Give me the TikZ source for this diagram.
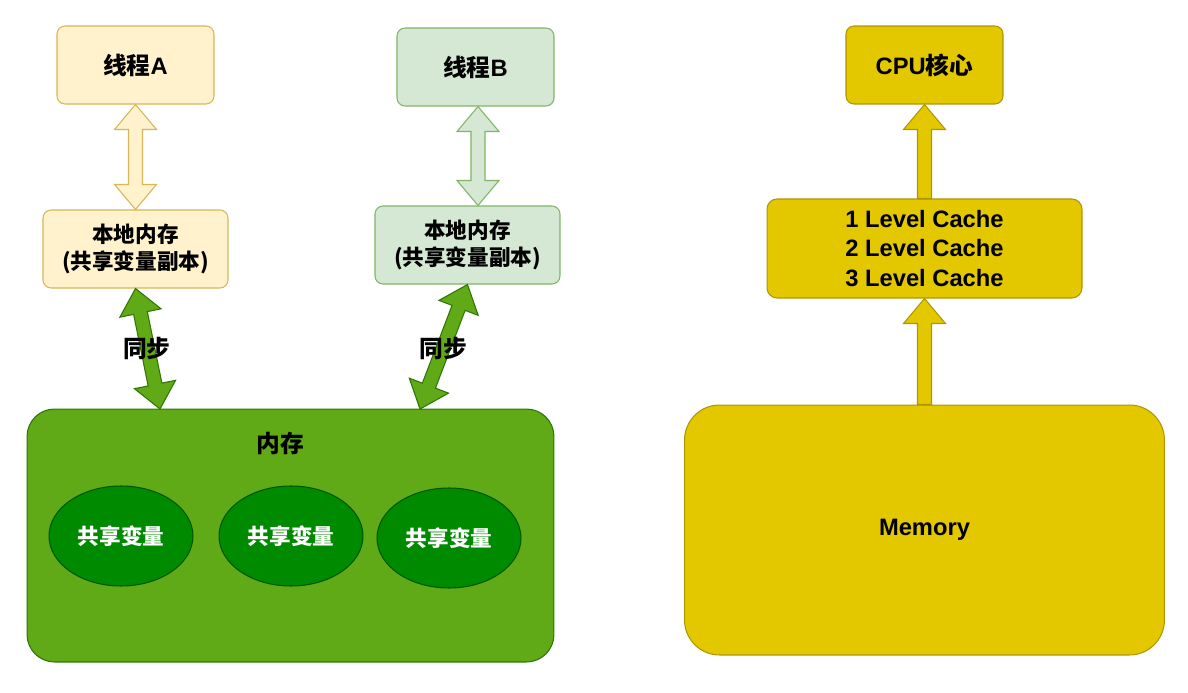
\documentclass[tikz,border=0pt]{standalone}
\usepackage{fontspec}
\setmainfont{Liberation Sans}
\newfontfamily\cjk{Noto Sans CJK SC}
\usetikzlibrary{calc,shapes.geometric}
\definecolor{cyfill}{HTML}{FFF2CC}
\definecolor{cyline}{HTML}{D6B656}
\definecolor{cgfill}{HTML}{D5E8D4}
\definecolor{cgline}{HTML}{82B366}
\definecolor{clime}{HTML}{60A917}
\definecolor{climeline}{HTML}{2D7600}
\definecolor{cdark}{HTML}{008A00}
\definecolor{cdarkline}{HTML}{005700}
\definecolor{cgold}{HTML}{E3C800}
\definecolor{cgoldline}{HTML}{B09500}

\newcommand{\dblarrow}[3]{%
  \filldraw[#1] (#2) -- ($(#2)!0.5cm!(#3)!0.42cm!90:(#3)$) -- ($(#2)!0.5cm!(#3)!0.14cm!90:(#3)$)
    -- ($(#3)!0.5cm!(#2)!0.14cm!-90:(#2)$) -- ($(#3)!0.5cm!(#2)!0.42cm!-90:(#2)$) -- (#3)
    -- ($(#3)!0.5cm!(#2)!0.42cm!90:(#2)$) -- ($(#3)!0.5cm!(#2)!0.14cm!90:(#2)$)
    -- ($(#2)!0.5cm!(#3)!0.14cm!-90:(#3)$) -- ($(#2)!0.5cm!(#3)!0.42cm!-90:(#3)$) -- cycle;}
\newcommand{\uparrowblk}[3]{%
  \filldraw[#1] ($(#2)!0.14cm!90:(#3)$) -- ($(#3)!0.5cm!(#2)!0.14cm!-90:(#2)$)
    -- ($(#3)!0.5cm!(#2)!0.42cm!-90:(#2)$) -- (#3) -- ($(#3)!0.5cm!(#2)!0.42cm!90:(#2)$)
    -- ($(#3)!0.5cm!(#2)!0.14cm!90:(#2)$) -- ($(#2)!0.14cm!-90:(#3)$) -- cycle;}

\begin{document}
\begin{tikzpicture}[x=0.02cm,y=-0.02cm,
  every node/.style={align=center,inner sep=0pt,line width=0.6pt,
    font=\bfseries\fontsize{13.5}{16.5}\selectfont},
  head/.style={draw,rounded corners=0.16cm,minimum width=3.14cm,minimum height=1.56cm},
  local/.style={draw,rounded corners=0.16cm,minimum width=3.7cm,minimum height=1.56cm,
    font=\cjk\bfseries\fontsize{12.3}{15}\selectfont},
  shared/.style={ellipse,draw=cdarkline,fill=cdark,text=white,minimum width=2.88cm,
    minimum height=2cm,font=\cjk\bfseries\fontsize{12.3}{15}\selectfont},
  every path/.style={line width=0.6pt}]
  \useasboundingbox (0,0) rectangle (1188,693);

  \node[head,fill=cyfill,draw=cyline] (ta) at (135.5,65) {{\cjk 线程}A};
  \node[head,fill=cgfill,draw=cgline] (tb) at (475.5,67) {{\cjk 线程}B};
  \node[local,fill=cyfill,draw=cyline] (la) at (135.5,249) {本地内存\\(共享变量副本)};
  \node[local,fill=cgfill,draw=cgline] (lb) at (467.5,245) {本地内存\\(共享变量副本)};

  \node[draw=climeline,fill=clime,rounded corners=0.55cm,minimum width=10.54cm,
    minimum height=5.06cm] (mem) at (290.5,535.5) {};
  \node[font=\cjk\bfseries\fontsize{13.5}{16.5}\selectfont] (memlabel) at (280,443) {内存};
  \node[shared] (v1) at (121,536) {共享变量};
  \node[shared] (v2) at (291,536) {共享变量};
  \node[shared] (v3) at (449,538) {共享变量};

  \coordinate (tbs) at ($(tb.south)+(2.5,0)$);
  \coordinate (lbn) at ($(lb.north)+(10.5,0)$);
  \coordinate (ma) at (160,409);
  \coordinate (mb) at (420,409);
  \dblarrow{fill=cyfill,draw=cyline}{ta.south}{la.north}
  \dblarrow{fill=cgfill,draw=cgline}{tbs}{lbn}
  \dblarrow{fill=clime,draw=climeline}{la.south}{ma}
  \dblarrow{fill=clime,draw=climeline}{lb.south}{mb}
  \node[font=\cjk\bfseries\fontsize{13.5}{16.5}\selectfont] (syncA) at (147,348) {同步};
  \node[font=\cjk\bfseries\fontsize{13.5}{16.5}\selectfont] (syncB) at (443,348) {同步};

  \node[head,fill=cgold,draw=cgoldline] (cpu) at (924.5,65) {CPU{\cjk 核心}};
  \node[draw=cgoldline,fill=cgold,rounded corners=0.2cm,minimum width=6.3cm,
    minimum height=1.98cm,font=\bfseries\fontsize{13.5}{17}\selectfont] (cache)
    at (924.5,248.5) {1 Level Cache\\2 Level Cache\\3 Level Cache};
  \node[draw=cgoldline,fill=cgold,rounded corners=0.7cm,minimum width=9.6cm,
    minimum height=5cm] (ram) at (924.5,530) {Memory};
  \uparrowblk{fill=cgold,draw=cgoldline}{cache.north}{cpu.south}
  \uparrowblk{fill=cgold,draw=cgoldline}{ram.north}{cache.south}
\end{tikzpicture}
\end{document}
